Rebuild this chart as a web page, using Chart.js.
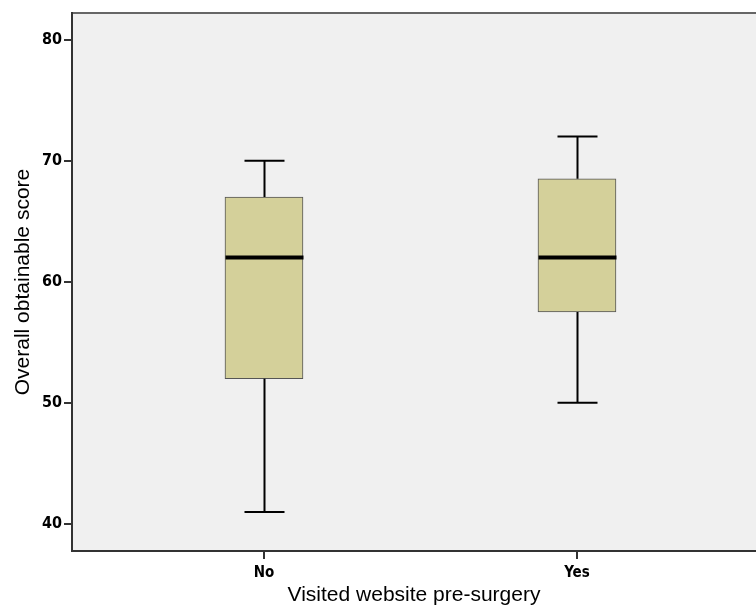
<!DOCTYPE html>
<html>
<head>
<meta charset="utf-8">
<script src="https://cdn.jsdelivr.net/npm/chart.js@4.4.1/dist/chart.umd.min.js"></script>
<style>
  html, body { margin: 0; padding: 0; background: #fff; overflow: hidden; }
  #wrap { position: relative; width: 756px; height: 618px; }
</style>
</head>
<body>
<div id="wrap"><canvas id="grafico"></canvas></div>
<script>
// ===== Datos =====
const grupos = ["No", "Yes"];
const minimos = [41, 50];
const cuartil1 = [52, 57.5];
const medianas = [62, 62];
const cuartil3 = [67, 68.5];
const maximos = [70, 72];
const ticksY = [40, 50, 60, 70, 80];

const fuenteTicks = "'Liberation Sans Narrow', 'DejaVu Sans Condensed', Arial, sans-serif";
const fuenteTitulo = "'Liberation Sans', Arial, sans-serif";

// ===== Plugins =====
const fondoPlot = {
  id: "fondoPlot",
  beforeDraw(chart) {
    const { ctx, chartArea: a } = chart;
    ctx.save();
    ctx.fillStyle = "#f0f0f0";
    ctx.fillRect(a.left, a.top, a.right - a.left, a.bottom - a.top);
    ctx.strokeStyle = "#666";
    ctx.lineWidth = 2;
    ctx.beginPath();
    ctx.moveTo(a.left, a.top);
    ctx.lineTo(a.right, a.top);
    ctx.stroke();
    ctx.restore();
  }
};

// bigotes y medianas con las escalas del chart
const bigotes = {
  id: "bigotes",
  afterDatasetsDraw(chart) {
    const { ctx, scales: { x, y } } = chart;
    const capMedio = 20, cajaMedia = 39;
    ctx.save();
    ctx.strokeStyle = "#000";
    grupos.forEach((g, i) => {
      const px = Math.round(x.getPixelForValue(i + 1)) + 0.5;
      const yMin = y.getPixelForValue(minimos[i]);
      const yQ1 = y.getPixelForValue(cuartil1[i]);
      const yQ3 = y.getPixelForValue(cuartil3[i]);
      const yMax = y.getPixelForValue(maximos[i]);
      ctx.lineWidth = 2;
      ctx.beginPath();
      ctx.moveTo(px, yQ1); ctx.lineTo(px, yMin);
      ctx.moveTo(px - capMedio, yMin); ctx.lineTo(px + capMedio, yMin);
      ctx.moveTo(px, yQ3); ctx.lineTo(px, yMax);
      ctx.moveTo(px - capMedio, yMax); ctx.lineTo(px + capMedio, yMax);
      ctx.stroke();
      const yMed = y.getPixelForValue(medianas[i]);
      ctx.lineWidth = 4;
      ctx.beginPath();
      ctx.moveTo(px - cajaMedia, yMed); ctx.lineTo(px + cajaMedia, yMed);
      ctx.stroke();
    });
    ctx.restore();
  }
};

// ===== Chart =====
const ctx = document.getElementById("grafico").getContext("2d");
new Chart(ctx, {
  type: "bar",
  data: {
    datasets: [{
      label: "Caja",
      data: grupos.map((g, i) => ({ x: i + 1, y: [cuartil1[i], cuartil3[i]] })),
      backgroundColor: "#d4d09a",
      borderColor: "#555",
      borderWidth: 1,
      borderSkipped: false,
      barThickness: 78
    }]
  },
  options: {
    responsive: true,
    maintainAspectRatio: false,
    animation: false,
    layout: { padding: { top: 13, right: 0, left: 0, bottom: 0 } },
    plugins: { legend: { display: false }, tooltip: { enabled: false } },
    scales: {
      x: {
        type: "linear",
        offset: false,
        min: 0.3866,
        max: 2.572,
        afterBuildTicks: s => { s.ticks = grupos.map((g, i) => ({ value: i + 1 })); },
        afterFit: s => { s.height = 67; },
        ticks: {
          callback: v => grupos[v - 1] ?? "",
          color: "#000",
          font: { family: fuenteTicks, size: 15, weight: "bold" },
          padding: 5,
          maxRotation: 0
        },
        grid: { offset: false, drawOnChartArea: false, drawTicks: true, tickLength: 8, color: "#333", lineWidth: 2 },
        border: { display: true, color: "#333", width: 2 },
        title: {
          display: true,
          text: "Visited website pre-surgery",
          color: "#000",
          font: { family: fuenteTitulo, size: 21 },
          padding: { top: 0, bottom: 10 }
        }
      },
      y: {
        min: 37.77,
        max: 82.19,
        afterBuildTicks: s => { s.ticks = ticksY.map(v => ({ value: v })); },
        afterFit: s => { s.width = 72; },
        ticks: {
          color: "#000",
          font: { family: fuenteTicks, size: 16, weight: "bold" },
          padding: 2
        },
        grid: { drawOnChartArea: false, drawTicks: true, tickLength: 8, color: "#333", lineWidth: 2 },
        border: { display: true, color: "#333", width: 2 },
        title: {
          display: true,
          text: "Overall obtainable score",
          color: "#000",
          font: { family: fuenteTitulo, size: 21 },
          padding: { top: 11, bottom: 0 }
        }
      }
    }
  },
  plugins: [fondoPlot, bigotes]
});
</script>
</body>
</html>
